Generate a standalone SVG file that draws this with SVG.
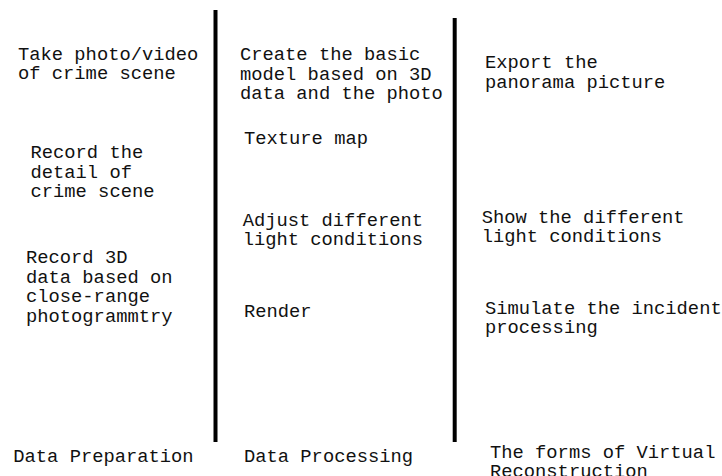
<svg xmlns="http://www.w3.org/2000/svg" width="722" height="476" viewBox="0 0 722 476">
<style>
  text { font-family: "Liberation Mono", "Courier New", monospace; font-size: 18.8px; fill: #111; }
  .div { stroke: #000; stroke-width: 4; }
</style>
<rect width="722" height="476" fill="#fff"/>
<g id="connectors">
  <line class="div" x1="215.5" y1="10" x2="215.5" y2="442"/>
  <line class="div" x1="454.7" y1="18" x2="454.7" y2="442"/>
</g>
<g id="n-take-photo">
  <text x="18" y="60">Take photo/video<tspan x="18" dy="19.3">of crime scene</tspan></text>
</g>
<g id="n-record-detail">
  <text x="30.5" y="158.3">Record the<tspan x="30.5" dy="19.5">detail of</tspan><tspan x="30.5" dy="19.5">crime scene</tspan></text>
</g>
<g id="n-record-3d">
  <text x="26" y="263.3">Record 3D<tspan x="26" dy="19.5">data based on</tspan><tspan x="26" dy="19.5">close-range</tspan><tspan x="26" dy="19.5">photogrammtry</tspan></text>
</g>
<g id="n-data-preparation">
  <text x="13.3" y="462.3">Data Preparation</text>
</g>
<g id="n-create-model">
  <text x="240" y="60">Create the basic<tspan x="240" dy="19.7">model based on 3D</tspan><tspan x="240" dy="19.7">data and the photo</tspan></text>
</g>
<g id="n-texture-map">
  <text x="244" y="144.3">Texture map</text>
</g>
<g id="n-adjust-light">
  <text x="242.7" y="226">Adjust different<tspan x="242.7" dy="19.2">light conditions</tspan></text>
</g>
<g id="n-render">
  <text x="244" y="317.3">Render</text>
</g>
<g id="n-data-processing">
  <text x="244" y="462.3">Data Processing</text>
</g>
<g id="n-export-panorama">
  <text x="485" y="68.3">Export the<tspan x="485" dy="19.2">panorama picture</tspan></text>
</g>
<g id="n-show-light">
  <text x="481.7" y="222.7">Show the different<tspan x="481.7" dy="19.5">light conditions</tspan></text>
</g>
<g id="n-simulate">
  <text x="485" y="314">Simulate the incident<tspan x="485" dy="18.9">processing</tspan></text>
</g>
<g id="n-forms">
  <text x="490" y="457.7">The forms of Virtual<tspan x="490" dy="19.5">Reconstruction</tspan></text>
</g>
</svg>
